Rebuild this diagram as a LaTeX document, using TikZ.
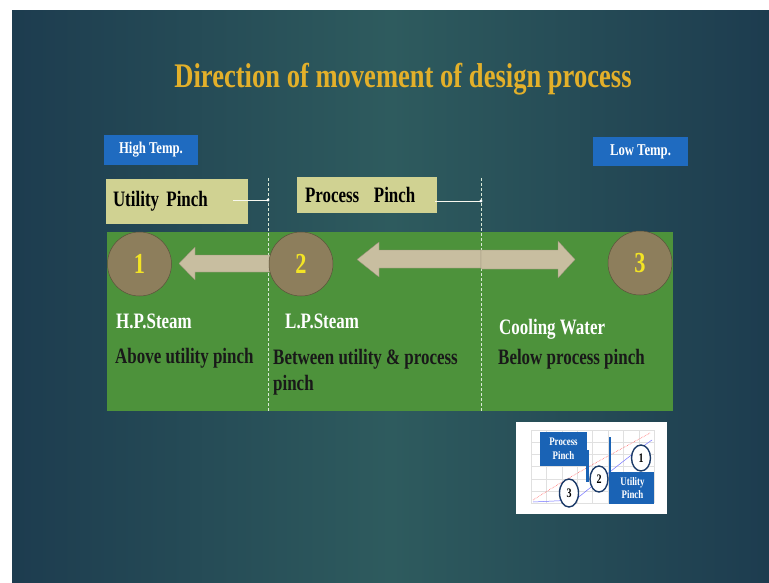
\documentclass[tikz,border=0pt]{standalone}
\usepackage{fontspec}
\setmainfont{Liberation Serif}
\newfontfamily\slidefont[FakeStretch=0.77]{Liberation Serif}
\usetikzlibrary{positioning, shapes.geometric}

\definecolor{slidedark}{HTML}{1D3C4F}
\definecolor{slidemid}{HTML}{2E5B5E}
\definecolor{titlegold}{HTML}{E3B02A}
\definecolor{tempblue}{HTML}{1F6BC0}
\definecolor{pinchkhaki}{HTML}{D0D292}
\definecolor{zonegreen}{HTML}{4D923B}
\definecolor{stagebrown}{HTML}{8D7E5C}
\definecolor{numyellow}{HTML}{F3E425}
\definecolor{arrowbeige}{HTML}{C8BEA0}
\definecolor{insetblue}{HTML}{1A63B5}
\definecolor{insetnavy}{HTML}{1B3A68}

\tikzset{
	tempbox/.style={fill=tempblue, text=white, inner sep=0pt, minimum width=94pt, minimum height=30pt, font=\slidefont\bfseries\fontsize{16.5}{19}\selectfont},
	pinchbox/.style={fill=pinchkhaki, text=black, align=left, font=\slidefont\bfseries\fontsize{22}{26}\selectfont},
	stage/.style={circle, fill=stagebrown, draw=stagebrown!65!black, line width=0.5pt, minimum size=64pt, inner sep=0pt, text=numyellow, font=\slidefont\bfseries\fontsize{29}{32}\selectfont},
	steamtext/.style={text=white, anchor=base west, inner sep=0pt, font=\slidefont\bfseries\fontsize{22}{26}\selectfont},
	rangetext/.style={text=black!90, inner sep=0pt, align=left, font=\slidefont\bfseries\fontsize{22}{26}\selectfont},
	blockarrow/.style={fill=arrowbeige, draw=arrowbeige!75!black, line width=0.3pt},
	pinchline/.style={white!85!pinchkhaki, line width=0.7pt},
	zoneline/.style={white!80!zonegreen, densely dashed, line width=0.5pt},
	insetbox/.style={fill=insetblue, text=white, align=center, inner sep=0pt, font=\slidefont\bfseries\fontsize{11.5}{13.5}\selectfont},
	insetmark/.style={ellipse, draw=insetnavy, line width=1.4pt, fill=white, inner sep=0pt, minimum width=19pt, minimum height=26pt, text=black, font=\slidefont\bfseries\fontsize{13}{15}\selectfont}
}

\begin{document}
\begin{tikzpicture}[x=1pt, y=-1pt]
	\useasboundingbox (0,0) rectangle (769,583);
	% slide background
	\shade[left color=slidedark, right color=slidedark, middle color=slidemid] (12,11) rectangle (769,583);
	\node[text=titlegold, font=\slidefont\bfseries\fontsize{34.5}{40}\selectfont, anchor=base] (title) at (403,88) {Direction of movement of design process};

	\node[tempbox] (hightemp) at (151,150) {High Temp.};
	\node[tempbox, minimum width=95pt, minimum height=29pt] (lowtemp) at (640.5,151.5) {Low Temp.};

	\node[pinchbox, minimum width=142pt, minimum height=45pt, inner xsep=7pt, text width=128pt] (utilpinch) at (177,201.5) {Utility Pinch};
	\node[pinchbox, minimum width=140pt, minimum height=36pt, inner xsep=8pt, text width=124pt] (procpinch) at (367,195) {Process\ \ Pinch};

	% zone with the three levels
	\fill[zonegreen] (107,232) rectangle (673,411);
	\coordinate (utilmark) at (268,200);
	\coordinate (procmark) at (481,201);
	\draw[zoneline] (268,178) -- (268,411);
	\draw[zoneline] (481,178) -- (481,411);
	\draw[pinchline] ([xshift=-15pt]utilpinch.east |- utilmark) -- (utilmark);
	\draw[pinchline] ([xshift=-2pt]procpinch.east |- procmark) -- (procmark);
	\fill[white] (utilmark) circle (1.6);
	\fill[white] (procmark) circle (1.6);

	\draw[blockarrow] (270,255) -- (195,255) -- (195,247) -- (179,263.5) -- (195,280) -- (195,272) -- (270,272) -- cycle;
	\draw[blockarrow] (481,250) -- (379,250) -- (379,242) -- (357,259.5) -- (379,277) -- (379,268) -- (481,268) -- cycle;
	\draw[blockarrow] (481,250) -- (558,250) -- (558,241) -- (575,259.5) -- (558,278) -- (558,269) -- (481,269) -- cycle;

	\node[stage] (hp) at (139.5,264) {1};
	\node[stage] (lp) at (301,264) {2};
	\node[stage] (cw) at (640,263) {3};

	\node[steamtext] (hpname) at (116,328) {H.P.Steam};
	\node[steamtext] (lpname) at (285,328) {L.P.Steam};
	\node[steamtext] (cwname) at (499,334) {Cooling Water};
	\node[rangetext, anchor=base west] (hprange) at (115,363) {Above utility pinch};
	\node[rangetext, anchor=north west] (lprange) at (273,349) {Between utility \& process\\pinch};
	\node[rangetext, anchor=base west] (cwrange) at (498,364) {Below process pinch};

	% small chart in the corner
	\fill[white] (516,422) rectangle (667,514);
	\foreach \gx in {531,546.4,...,655} \draw[black!12, line width=0.3pt] (\gx,430) -- (\gx,503);
	\foreach \gy in {430,442.2,...,504} \draw[black!12, line width=0.3pt] (531,\gy) -- (654,\gy);
	\draw[red!60, densely dotted, line width=0.6pt] (533,500) .. controls (580,470) and (620,450) .. (650,433);
	\draw[blue!55, line width=0.5pt] (533,502) -- (575,500) .. controls (600,480) and (630,455) .. (652,440);
	\node[insetbox, minimum width=47pt, minimum height=34pt] (insetproc) at (563.5,449) {Process\\Pinch};
	\draw[insetblue, line width=2.2pt] (587.5,450) -- (587.5,482);
	\draw[insetblue, line width=1.6pt] (610,437) -- (610,504);
	\node[insetbox, minimum width=43pt, minimum height=32pt] (insetutil) at (632.5,488) {Utility\\Pinch};
	\node[insetmark] (mark1) at (641,458) {1};
	\node[insetmark, minimum width=18pt] (mark2) at (599,479) {2};
	\node[insetmark, minimum height=28pt] (mark3) at (569,493) {3};
\end{tikzpicture}
\end{document}
